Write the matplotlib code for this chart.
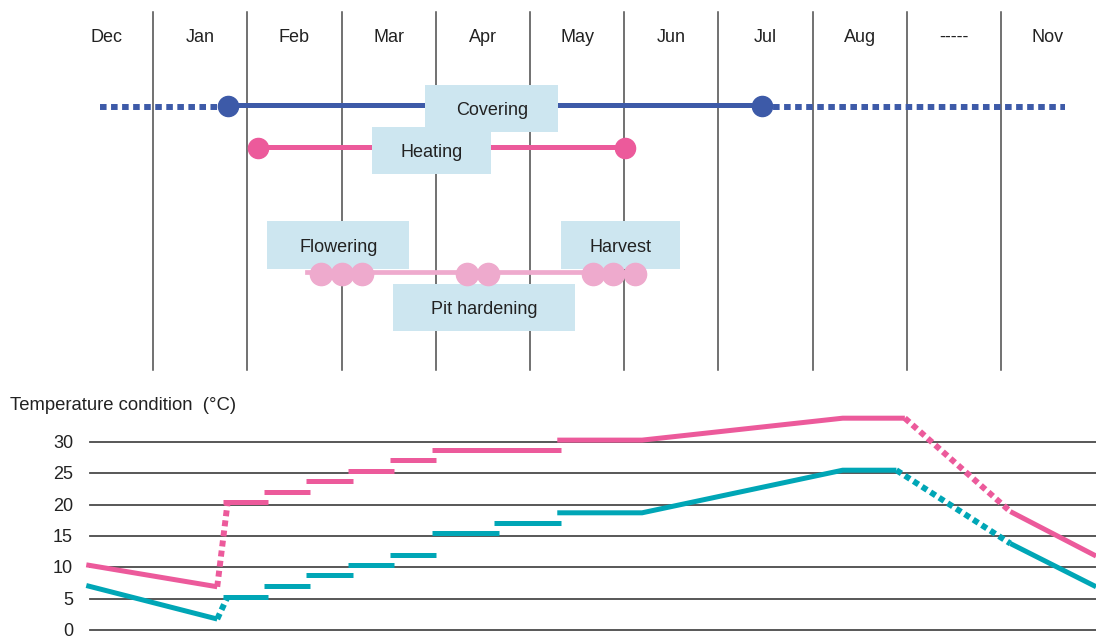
import matplotlib.pyplot as plt
from matplotlib.patches import Rectangle

plt.rcParams['font.family'] = ['Liberation Sans', 'DejaVu Sans']

# x is measured in months, Dec column = 0..1, Jan = 1..2, ...
months = ['Dec', 'Jan', 'Feb', 'Mar', 'Apr', 'May', 'Jun', 'Jul', 'Aug', '-----', 'Nov']

# operations (start / end in months)
cover_dot_start, cover_start, cover_end, cover_dot_end = 0.44, 1.79, 7.46, 10.68
heat_start, heat_end = 2.11, 6.01
stage_line = [2.63, 6.13]
stage_dots = [2.78, 3.0, 3.22, 4.33, 4.55, 5.67, 5.88, 6.11]

# label boxes: text, x0, x1, y-top, y-bottom (timeline units, 0 = top)
boxes = [
    ('Covering', 3.89, 5.30, 85, 132),
    ('Heating', 3.32, 4.59, 127, 174),
    ('Flowering', 2.21, 3.72, 221, 269),
    ('Harvest', 5.33, 6.59, 221, 269),
    ('Pit hardening', 3.55, 5.48, 284, 331),
]

# temperature conditions (deg C)
day_x1 = [0.29, 1.68]
day_t1 = [10.4, 6.9]
day_jump_x = [1.68, 1.79]
day_jump_t = [6.9, 20.3]
day_steps = [(1.74, 2.22, 20.4), (2.18, 2.66, 22.1), (2.62, 3.12, 23.7),
             (3.07, 3.56, 25.4), (3.51, 4.00, 27.1), (3.96, 5.33, 28.7)]
day_x2 = [5.29, 6.19, 8.32, 8.98]
day_t2 = [30.3, 30.3, 33.8, 33.8]
day_fall_x = [8.98, 10.10]
day_fall_t = [33.8, 18.9]
day_x3 = [10.10, 11.01]
day_t3 = [18.9, 11.8]

night_x1 = [0.29, 1.68]
night_t1 = [7.1, 1.75]
night_jump_x = [1.68, 1.79]
night_jump_t = [1.75, 5.3]
night_steps = [(1.74, 2.22, 5.3), (2.18, 2.66, 7.0), (2.62, 3.12, 8.7),
               (3.07, 3.56, 10.4), (3.51, 4.00, 12.0), (3.96, 4.67, 15.4),
               (4.62, 5.33, 17.0)]
night_x2 = [5.29, 6.19, 8.32, 8.89]
night_t2 = [18.7, 18.7, 25.5, 25.5]
night_fall_x = [8.89, 10.10]
night_fall_t = [25.5, 13.8]
night_x3 = [10.10, 11.01]
night_t3 = [13.8, 6.9]

temp_ticks = [0, 5, 10, 15, 20, 25, 30]

blue = '#3d5aa8'
pink = '#ec5a9b'
cyan = '#00a6b6'
light_pink = '#eeaacd'
box_col = '#cde6f0'
grid_col = '#4a4a4a'
txt_col = '#222222'

fig = plt.figure(figsize=(10.96, 6.41), dpi=100)
xl = (-0.626, 11.009)

# ---- timeline part ----
ax = fig.add_axes([0, 0, 1, 1])
ax.set_xlim(xl)
ax.set_ylim(641, 0)
ax.axis('off')

for k in range(1, len(months)):
    ax.plot([k, k], [12, 370], color=grid_col, lw=1.1, zorder=1)
for i, m in enumerate(months):
    ax.text(i + 0.5, 37.5, m, ha='center', va='center', fontsize=13, color=txt_col)

dots = (1.1, 0.75)
ax.plot([cover_dot_start, cover_start], [107, 107], color=blue, lw=4.3,
        dashes=dots, solid_capstyle='butt', dash_capstyle='butt', zorder=2)
ax.plot([cover_end, cover_dot_end], [107, 107], color=blue, lw=4.3,
        dashes=dots, dash_capstyle='butt', zorder=2)
ax.plot([cover_start, cover_end], [105, 105], color=blue, lw=3.6, zorder=2)
ax.plot([cover_start, cover_end], [106, 106], color=blue, ls='none',
        marker='o', ms=14.5, zorder=3)

ax.plot([heat_start, heat_end], [147, 147], color=pink, lw=3.6, zorder=2)
ax.plot([heat_start, heat_end], [148, 148], color=pink, ls='none',
        marker='o', ms=14.5, zorder=3)

for text, x0, x1, y0, y1 in boxes:
    ax.add_patch(Rectangle((x0, y0), x1 - x0, y1 - y0, facecolor=box_col,
                           edgecolor='none', zorder=4))
    ax.text((x0 + x1) / 2, (y0 + y1) / 2 + 2, text, ha='center', va='center',
            fontsize=13, color=txt_col, zorder=5)

ax.plot(stage_line, [271.5, 271.5], color=light_pink, lw=3.4, zorder=6)
ax.plot(stage_dots, [274] * len(stage_dots), color=light_pink, ls='none',
        marker='o', ms=16, zorder=7)

# ---- temperature part ----
ax2 = fig.add_axes([0, 0, 1, 1])
ax2.set_xlim(xl)
ax2.set_ylim(-1.755, 100.53)
ax2.axis('off')
ax2.patch.set_alpha(0)

for t in temp_ticks:
    ax2.plot([0.33, 11.01], [t, t], color=grid_col, lw=1.3, zorder=1)
    ax2.text(0.149, t - 0.25, str(t), ha='right', va='center', fontsize=13, color=txt_col)
ax2.text(-0.52, 35.8, 'Temperature condition  (°C)', ha='left', va='center',
         fontsize=13.3, color=txt_col)

for col, xs1, ts1, jx, jt, steps, xs2, ts2, fx, ft, xs3, ts3 in [
        (pink, day_x1, day_t1, day_jump_x, day_jump_t, day_steps, day_x2, day_t2,
         day_fall_x, day_fall_t, day_x3, day_t3),
        (cyan, night_x1, night_t1, night_jump_x, night_jump_t, night_steps, night_x2,
         night_t2, night_fall_x, night_fall_t, night_x3, night_t3)]:
    ax2.plot(xs1, ts1, color=col, lw=3.6, solid_capstyle='butt', zorder=3)
    ax2.plot(jx, jt, color=col, lw=4.3, dashes=(1.0, 0.7), dash_capstyle='butt', zorder=3)
    for x0, x1, t in steps:
        ax2.plot([x0, x1], [t, t], color=col, lw=3.6, solid_capstyle='butt', zorder=3)
    ax2.plot(xs2, ts2, color=col, lw=3.6, solid_capstyle='butt', zorder=3)
    ax2.plot(fx, ft, color=col, lw=4.3, dashes=(1.0, 0.7), dash_capstyle='butt', zorder=3)
    ax2.plot(xs3, ts3, color=col, lw=3.6, solid_capstyle='butt', zorder=3)

fig.savefig('out.png', dpi=100)
